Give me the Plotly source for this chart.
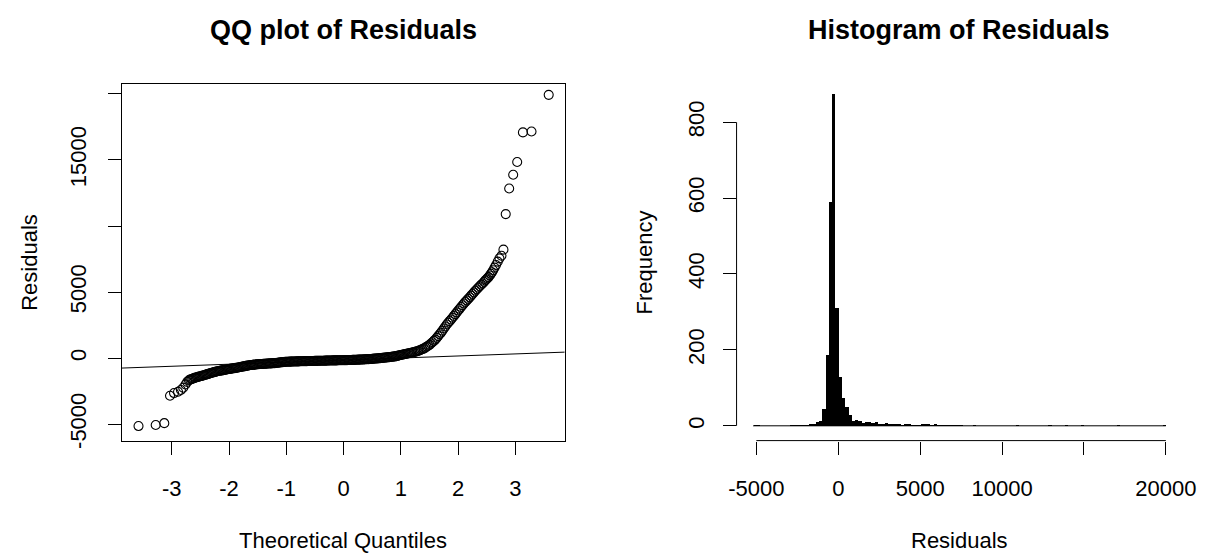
import plotly.graph_objects as go

# ---------------- QQ plot data (theoretical quantile, sorted residual) ----------------
qq_quantiles = [
    -3.58, -3.28, -3.13, -3.03, -2.96, -2.89, -2.84, -2.80, -2.76, -2.73, -2.70,
    -2.68, -2.66, -2.64, -2.62, -2.60, -2.58, -2.56, -2.54, -2.52, -2.50,
    -2.48, -2.46, -2.44, -2.42, -2.40, -2.38, -2.36, -2.34, -2.32, -2.30,
    -2.28, -2.26, -2.24, -2.22, -2.20, -2.18, -2.16, -2.14, -2.12, -2.10,
    -2.08, -2.06, -2.04, -2.02,
    -2.00, -1.98, -1.96, -1.94, -1.92, -1.90, -1.88, -1.86, -1.84, -1.82,
    -1.80, -1.78, -1.76, -1.74, -1.72, -1.70, -1.68, -1.66, -1.64, -1.62,
    -1.60, -1.58, -1.56, -1.54, -1.52, -1.50, -1.48, -1.46, -1.44, -1.42,
    -1.40, -1.38, -1.36, -1.34, -1.32, -1.30, -1.28, -1.26, -1.24, -1.22,
    -1.20, -1.18, -1.16, -1.14, -1.12, -1.10, -1.08, -1.06, -1.04, -1.02,
    -1.00, -0.98, -0.96, -0.94, -0.92, -0.90, -0.88, -0.86, -0.84, -0.82,
    -0.80, -0.78, -0.76, -0.74, -0.72, -0.70, -0.68, -0.66, -0.64, -0.62,
    -0.60, -0.58, -0.56, -0.54, -0.52, -0.50, -0.48, -0.46, -0.44, -0.42,
    -0.40, -0.38, -0.36, -0.34, -0.32, -0.30, -0.28, -0.26, -0.24, -0.22,
    -0.20, -0.18, -0.16, -0.14, -0.12, -0.10, -0.08, -0.06, -0.04, -0.02,
    0.00, 0.02, 0.04, 0.06, 0.08, 0.10, 0.12, 0.14, 0.16, 0.18,
    0.20, 0.22, 0.24, 0.26, 0.28, 0.30, 0.32, 0.34, 0.36, 0.38,
    0.40, 0.42, 0.44, 0.46, 0.48, 0.50, 0.52, 0.54, 0.56, 0.58,
    0.60, 0.62, 0.64, 0.66, 0.68, 0.70, 0.72, 0.74, 0.76, 0.78,
    0.80, 0.82, 0.84, 0.86, 0.88, 0.90, 0.92, 0.94, 0.96, 0.98,
    1.00, 1.02, 1.04, 1.06, 1.08, 1.10, 1.12, 1.14, 1.16, 1.18, 1.20,
    1.225, 1.25, 1.275, 1.30, 1.325, 1.35, 1.375, 1.40, 1.425, 1.45,
    1.475, 1.50, 1.525, 1.55, 1.575, 1.60, 1.625, 1.65, 1.675, 1.70,
    1.725, 1.75, 1.775, 1.80, 1.825, 1.85, 1.875, 1.90, 1.925, 1.95,
    1.975, 2.00, 2.025, 2.05, 2.075, 2.10, 2.125, 2.15, 2.175, 2.20,
    2.225, 2.25, 2.275, 2.30, 2.325, 2.35, 2.375, 2.40, 2.425, 2.45,
    2.47, 2.49, 2.51, 2.53, 2.55, 2.57, 2.59, 2.61, 2.635, 2.66, 2.69,
    2.72, 2.755, 2.79, 2.83, 2.89, 2.96, 3.03, 3.13, 3.28, 3.58,
]
qq_residuals = [
    -5150, -5070, -4930, -2850, -2650, -2550, -2420, -2250, -2000, -1800, -1680,
    -1630, -1600, -1570, -1535, -1500, -1475, -1450, -1425, -1400, -1380,
    -1355, -1330, -1305, -1280, -1250, -1220, -1195, -1165, -1140, -1110,
    -1090, -1065, -1045, -1020, -1000, -980, -965, -945, -930, -910,
    -895, -880, -860, -845,
    -830, -815, -800, -785, -775, -760, -745, -730, -710, -695,
    -680, -660, -645, -625, -610, -590, -575, -560, -545, -530,
    -520, -510, -500, -490, -480, -470, -465, -455, -450, -445,
    -440, -435, -430, -420, -415, -410, -405, -400, -390, -385,
    -380, -370, -360, -350, -340, -330, -320, -310, -300, -290,
    -280, -277, -274, -271, -268, -265, -262, -259, -256, -253,
    -250, -248, -245, -243, -240, -238, -235, -233, -230, -228,
    -225, -223, -221, -219, -217, -215, -213, -211, -209, -207,
    -205, -203, -200, -198, -195, -193, -190, -188, -185, -183,
    -180, -178, -176, -174, -172, -170, -168, -166, -164, -162,
    -160, -158, -155, -153, -150, -148, -145, -143, -140, -138,
    -135, -131, -126, -122, -117, -113, -108, -104, -99, -95,
    -90, -84, -78, -72, -66, -60, -52, -44, -36, -28,
    -20, -12, -4, 4, 12, 20, 30, 40, 50, 60,
    70, 82, 94, 106, 118, 130, 150, 170, 190, 210,
    230, 250, 270, 290, 310, 330, 348, 366, 384, 402, 420,
    450, 480, 510, 540, 585, 630, 675, 720, 790, 860,
    930, 1000, 1100, 1200, 1300, 1400, 1530, 1665, 1800, 1930,
    2080, 2235, 2390, 2540, 2670, 2795, 2920, 3050, 3190, 3325,
    3460, 3600, 3730, 3865, 4000, 4130, 4250, 4365, 4480, 4600,
    4725, 4850, 4975, 5100, 5210, 5325, 5440, 5550, 5650, 5760,
    5870, 5950, 6040, 6130, 6250, 6380, 6500, 6650, 6850, 7050, 7300,
    7550, 7750, 8210, 10900, 12840, 13880, 14850, 17090, 17160, 19930,
]
qq_line_intercept = -153
qq_line_slope = 156

qq_xticks = [-3, -2, -1, 0, 1, 2, 3]
qq_xtick_labels = ["-3", "-2", "-1", "0", "1", "2", "3"]
qq_yticks = [-5000, 0, 5000, 10000, 15000, 20000]
qq_ytick_labels = ["-5000", "0", "5000", "", "15000", ""]

# ---------------- Histogram data (bin left edge, count), bin width 200 ----------------
hist_bin_left = [
    -5200, -5000, -3000, -2800, -2600, -2400, -2200, -2000, -1800, -1600,
    -1400, -1200, -1000, -800, -600, -400, -200, 0, 200, 400,
    600, 800, 1000, 1200, 1400, 1600, 1800, 2000, 2200, 2400,
    2600, 2800, 3000, 3200, 3400, 3600, 3800, 4000, 4200, 4400,
    4600, 4800, 5000, 5200, 5400, 5600, 5800, 6000, 6200, 6400,
    6600, 6800, 7000, 7200, 7400, 8200, 10800, 12800, 13800, 14800,
    17000, 19800,
]
hist_counts = [
    2, 1, 1, 2, 2, 1, 2, 2, 3, 6,
    10, 13, 45, 187, 590, 875, 310, 130, 75, 50,
    30, 14, 16, 14, 9, 10, 10, 7, 10, 6,
    6, 9, 3, 4, 4, 3, 2, 3, 6, 2,
    2, 2, 3, 3, 3, 2, 3, 2, 1, 2,
    1, 2, 1, 1, 1, 1, 1, 1, 1, 1,
    2, 1,
]
hist_bin_width = 200
hist_break_min = -5200
hist_break_max = 20000

hist_xticks = [-5000, 0, 5000, 10000, 15000, 20000]
hist_xtick_labels = ["-5000", "0", "5000", "10000", "", "20000"]
hist_yticks = [0, 200, 400, 600, 800]

# ---------------- Figure ----------------
# the page body margin is removed by a post script, so the figure fills the window
W, H = 1216, 559
FONT = "Liberation Sans, Arial, sans-serif"


def fx(px):
    return px / W


def fy(py):
    return 1 - py / H


qq_xrange = [-3.87, 3.86]
qq_yrange = [-6250, 20770]
hist_xrange = [-6208, 21008]
hist_yrange = [-39, 909]

fig = go.Figure()

fig.add_trace(go.Scatter(
    x=qq_quantiles, y=qq_residuals, mode="markers",
    marker=dict(symbol="circle-open", size=9, color="black", line=dict(width=1.1)),
    xaxis="x", yaxis="y", showlegend=False, hoverinfo="skip",
))
fig.add_trace(go.Scatter(
    x=qq_xrange,
    y=[qq_line_intercept + qq_line_slope * v for v in qq_xrange],
    mode="lines", line=dict(color="black", width=1),
    xaxis="x", yaxis="y", showlegend=False, hoverinfo="skip",
))
fig.add_trace(go.Bar(
    x=hist_bin_left, y=hist_counts, width=hist_bin_width, offset=0,
    marker=dict(color="black", line=dict(color="black", width=0)),
    xaxis="x2", yaxis="y2", showlegend=False, hoverinfo="skip",
))

tickfont = dict(family=FONT, size=22, color="black")
common = dict(showgrid=False, zeroline=False, ticks="outside", ticklen=13,
              tickwidth=1, tickcolor="black", tickfont=tickfont,
              ticklabeloverflow="allow")

fig.update_layout(
    width=W, height=H, margin=dict(l=0, r=0, t=0, b=0),
    paper_bgcolor="white", plot_bgcolor="white", bargap=0,
    xaxis=dict(domain=[fx(116), fx(567)], range=qq_xrange, tickvals=qq_xticks,
               ticktext=qq_xtick_labels,
               showline=True, mirror=True, linecolor="black", linewidth=1,
               ticklabelstandoff=15, anchor="y", **common),
    yaxis=dict(domain=[fy(447), fy(85)], range=qq_yrange, tickvals=qq_yticks,
               ticktext=qq_ytick_labels, tickangle=-90,
               showline=True, mirror=True, linecolor="black", linewidth=1,
               ticklabelstandoff=13, anchor="x", **common),
    xaxis2=dict(domain=[fx(742), fx(1196)], range=hist_xrange, tickvals=hist_xticks,
                ticktext=hist_xtick_labels, showline=False,
                ticklabelstandoff=15, anchor="y2", **common),
    yaxis2=dict(domain=[fy(447), fy(82)], range=hist_yrange, tickvals=hist_yticks,
                tickangle=-90, showline=False, ticklabelstandoff=10,
                anchor="x2", **common),
)

# histogram axis lines spanning the tick range, and the zero baseline over all breaks
fig.add_shape(type="line", xref="x2", yref="y2 domain",
              x0=hist_xticks[0], x1=hist_xticks[-1], y0=0, y1=0,
              line=dict(color="black", width=1))
fig.add_shape(type="line", xref="x2 domain", yref="y2",
              x0=0, x1=0, y0=hist_yticks[0], y1=hist_yticks[-1],
              line=dict(color="black", width=1))
fig.add_shape(type="line", xref="x2", yref="y2",
              x0=hist_break_min, x1=hist_break_max, y0=0, y1=0,
              line=dict(color="black", width=1))

titlefont = dict(family=FONT, size=27, color="black")
labfont = dict(family=FONT, size=22, color="black")
ann = [
    dict(text="<b>QQ plot of Residuals</b>", x=fx(341.5), y=fy(30), font=titlefont),
    dict(text="<b>Histogram of Residuals</b>", x=fx(969), y=fy(30), font=titlefont),
    dict(text="Theoretical Quantiles", x=fx(341.5), y=fy(548), font=labfont),
    dict(text="Residuals", x=fx(969), y=fy(548), font=labfont),
    dict(text="Residuals", x=fx(22), y=fy(266), font=labfont, textangle=-90),
    dict(text="Frequency", x=fx(648), y=fy(266), font=labfont, textangle=-90),
]
for a in ann:
    fig.add_annotation(xref="paper", yref="paper", showarrow=False,
                       xanchor="center", yanchor="middle", **a)

fig.write_html(
    "out.html",
    config={"displayModeBar": False},
    post_script="document.body.style.margin='0';document.documentElement.style.overflow='hidden';",
)
